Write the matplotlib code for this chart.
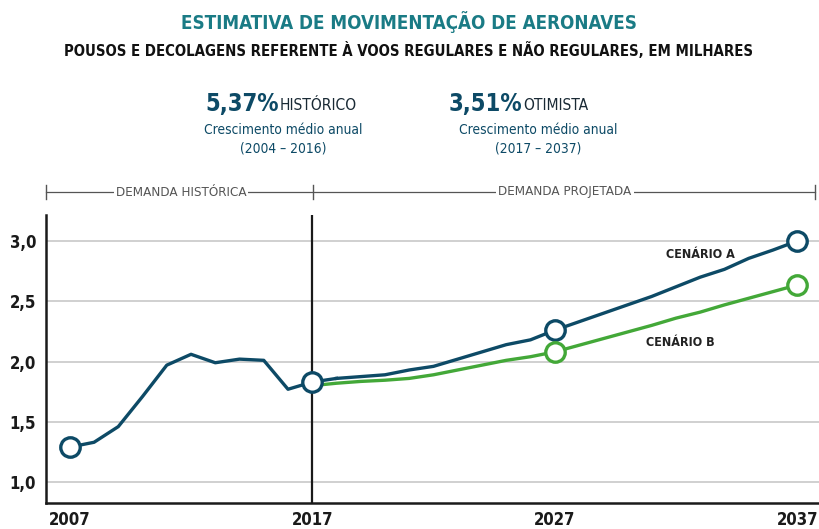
import matplotlib.pyplot as plt

# historical series (thousands of movements)
anos_hist = [2007, 2008, 2009, 2010, 2011, 2012, 2013, 2014, 2015, 2016, 2017]
hist = [1.29, 1.33, 1.46, 1.71, 1.97, 2.06, 1.99, 2.02, 2.01, 1.77, 1.83]

# projections 2017-2037
anos_proj = list(range(2017, 2038))
cenario_a = [1.85, 1.86, 1.875, 1.89, 1.93, 1.96, 2.02, 2.08, 2.14, 2.18, 2.26,
             2.33, 2.40, 2.47, 2.54, 2.62, 2.70, 2.765, 2.856, 2.925, 3.00]
cenario_b = [1.80, 1.82, 1.835, 1.845, 1.86, 1.89, 1.93, 1.97, 2.01, 2.04, 2.08,
             2.135, 2.19, 2.245, 2.30, 2.36, 2.41, 2.47, 2.525, 2.58, 2.635]

yticks = [1.0, 1.5, 2.0, 2.5, 3.0]
ytick_labels = ['1,0', '1,5', '2,0', '2,5', '3,0']
xticks = [2007, 2017, 2027, 2037]

navy = '#0d4a66'
green = '#43a838'
teal = '#1a7b85'
plt.rcParams['font.family'] = ['DejaVu Sans']
plt.rcParams['font.stretch'] = 'condensed'

fig = plt.figure(figsize=(8.19, 5.29), dpi=100)
ax = fig.add_axes([0.0562, 0.0491, 0.9438, 0.5445])

for y in yticks:
    ax.axhline(y, color='#c8c8c8', lw=1.2, zorder=1)
ax.axvline(2017, color='#1a1a1a', lw=1.6, zorder=2)

ax.plot(anos_proj, cenario_b, color=green, lw=2.4, zorder=3)
ax.plot(anos_proj[1:], cenario_a[1:], color=navy, lw=2.4, zorder=4)
ax.plot([2017, 2018], [hist[-1], cenario_a[1]], color=navy, lw=2.4, zorder=4)
ax.plot(anos_hist, hist, color=navy, lw=2.4, zorder=4)

mk = dict(marker='o', ms=14, mfc='white', mew=2.4, ls='none', zorder=5)
ax.plot([2007, 2017], [hist[0], hist[-1]], mec=navy, **mk)
ax.plot([2027, 2037], [cenario_a[10], cenario_a[20]], mec=navy, **mk)
ax.plot([2027, 2037], [cenario_b[10], cenario_b[20]], mec=green, **mk)

ax.set_xlim(2006.02, 2037.9)
ax.set_ylim(0.826, 3.216)
ax.set_yticks(yticks)
ax.set_yticklabels(ytick_labels, fontsize=12, fontweight='bold', color='#1a1a1a')
ax.set_xticks(xticks)
ax.set_xticklabels([str(x) for x in xticks], fontsize=12, fontweight='bold', color='#1a1a1a')
ax.tick_params(length=0, pad=7)
ax.tick_params(axis='x', pad=6)
for s in ['top', 'right']:
    ax.spines[s].set_visible(False)
for s in ['left', 'bottom']:
    ax.spines[s].set_linewidth(1.8)
    ax.spines[s].set_color('#1a1a1a')

ax.text(2033.0, 2.89, 'CENÁRIO A', fontsize=9, fontweight='bold', color='#222222',
        ha='center', va='center', zorder=6)
ax.text(2032.2, 2.16, 'CENÁRIO B', fontsize=9, fontweight='bold', color='#222222',
        ha='center', va='center', zorder=6)

# bracket above the plot
W, H = 819.0, 529.0
def fx(px):
    return px / W
def fy(py):
    return 1 - py / H

gray = '#555555'
by = fy(192)
fig.add_artist(plt.Line2D([fx(46), fx(815)], [by, by], color=gray, lw=0.9))
for px in [46, 313, 815]:
    fig.add_artist(plt.Line2D([fx(px), fx(px)], [fy(185), fy(199)], color=gray, lw=1.0))
box = dict(boxstyle='square,pad=0.15', fc='white', ec='none')
fig.text(fx(181), by, 'DEMANDA HISTÓRICA', fontsize=9.6, color=gray, ha='center', va='center', bbox=box)
fig.text(fx(565), by, 'DEMANDA PROJETADA', fontsize=9.6, color=gray, ha='center', va='center', bbox=box)

# titles
fig.text(fx(409), fy(22), 'ESTIMATIVA DE MOVIMENTAÇÃO DE AERONAVES', fontsize=13.5,
         fontweight='bold', color=teal, ha='center', va='center')
fig.text(fx(409), fy(50), 'POUSOS E DECOLAGENS REFERENTE À VOOS REGULARES E NÃO REGULARES, EM MILHARES',
         fontsize=10.7, fontweight='bold', color='#111111', ha='center', va='center')

# growth call-outs
for big, word, cx, years in [('5,37%', 'HISTÓRICO', 279, '(2004 – 2016)'),
                             ('3,51%', 'OTIMISTA', 522, '(2017 – 2037)')]:
    fig.text(fx(cx), fy(104), big, fontsize=17, fontweight='bold', color=navy,
             ha='right', va='center')
    fig.text(fx(cx + 1), fy(106), word, fontsize=11.2, color='#1a2a35', ha='left', va='center')

for cx, years in [(283, '(2004 – 2016)'), (538, '(2017 – 2037)')]:
    fig.text(fx(cx), fy(130), 'Crescimento médio anual', fontsize=9.9, color=navy,
             ha='center', va='center')
    fig.text(fx(cx), fy(148), years, fontsize=9.9, color=navy, ha='center', va='center')

fig.savefig('out.png', dpi=100)
